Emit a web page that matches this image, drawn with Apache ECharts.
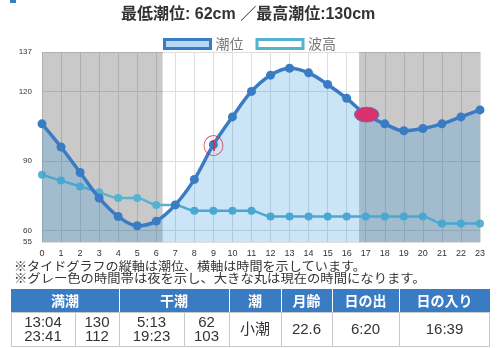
<!DOCTYPE html>
<html>
<head>
<meta charset="utf-8">
<script src="https://cdn.jsdelivr.net/npm/echarts@6/dist/echarts.min.js"></script>
<style>
  html, body { margin: 0; padding: 0; background: #fff; }
  #chart { width: 499px; height: 348px; }
</style>
</head>
<body>
<div id="chart"></div>
<script>
// Hourly values, 0:00 - 23:00
const hours = [0,1,2,3,4,5,6,7,8,9,10,11,12,13,14,15,16,17,18,19,20,21,22,23];
const tideLevel = [106,96,85,74,66,62,64,71,82,97,109,120,127,130,128,123,117,110,106,103,104,106,109,112];
const waveLevel = [84,81.5,79,76.5,74,74,71,71,68.5,68.5,68.5,68.5,66,66,66,66,66,66,66,66,66,63,63,63];
const yTicks = [55,60,90,120,137];

// Daily tide table
const highTimes = ['13:04','23:41'];
const highLevels = [130,112];
const lowTimes = ['5:13','19:23'];
const lowLevels = [62,103];
const tideName = '小潮';
const moonAge = '22.6';
const sunrise = '6:20';
const sunset = '16:39';
const nowTime = '17:03';
const nowLevel = 110;
const noteHour = 9;

const toHour = t => { const [h, m] = t.split(':').map(Number); return h + m / 60; };
const minLevel = Math.min(...lowLevels);
const maxLevel = Math.max(...highLevels);

const FONT_JP = '"Noto Sans CJK JP", "Noto Sans", sans-serif';
const FONT_MIX = '"Liberation Sans", "Noto Sans CJK JP", sans-serif';
const FONT_NUM = '"Liberation Sans", Arial, sans-serif';
const BLUE = '#3a7cc4';
const TEAL = '#55b2d0';

const chart = echarts.init(document.getElementById('chart'), null, { renderer: 'canvas' });

// Tide table drawn as graphic elements
const tX = 11, tR = 490, hTop = 289, hBot = 312, bBot = 347;
const cols = [11, 75, 119, 184, 229, 281, 332, 399, 490];
const headers = [
  ['満潮', 0, 2], ['干潮', 2, 4], ['潮', 4, 5], ['月齢', 5, 6], ['日の出', 6, 7], ['日の入り', 7, 8]
];
const bodyCells = [
  highTimes.join('\n'), highLevels.join('\n'), lowTimes.join('\n'), lowLevels.join('\n'),
  tideName, moonAge, sunrise, sunset
];
const tableEls = [];
tableEls.push({ type: 'rect', shape: { x: tX, y: hTop, width: tR - tX, height: hBot - hTop }, style: { fill: BLUE } });
tableEls.push({ type: 'rect', shape: { x: tX + 0.5, y: hBot + 0.5, width: tR - tX - 1, height: bBot - hBot - 1 }, style: { fill: '#fff', stroke: '#c8c8c8', lineWidth: 1 } });
headers.forEach(([txt, a, b], i) => {
  if (i > 0) tableEls.push({ type: 'line', shape: { x1: cols[a] + 0.5, y1: hTop, x2: cols[a] + 0.5, y2: hBot }, style: { stroke: '#ffffff', lineWidth: 1 } });
  tableEls.push({ type: 'text', x: (cols[a] + cols[b]) / 2, y: (hTop + hBot) / 2,
    style: { text: txt, fill: '#fff', font: 'bold 14px ' + FONT_JP, align: 'center', verticalAlign: 'middle' } });
});
bodyCells.forEach((txt, i) => {
  if (i > 0) tableEls.push({ type: 'line', shape: { x1: cols[i] + 0.5, y1: hBot, x2: cols[i] + 0.5, y2: bBot }, style: { stroke: '#c8c8c8', lineWidth: 1 } });
  tableEls.push({ type: 'text', x: (cols[i] + cols[i + 1]) / 2, y: (hBot + bBot) / 2 + 0.5,
    style: { text: txt, fill: '#333', font: '15px ' + FONT_MIX, align: 'center', verticalAlign: 'middle', lineHeight: 14 } });
});

const option = {
  animation: false,
  title: {
    text: '最低潮位: ' + minLevel + 'cm ／最高潮位:' + maxLevel + 'cm',
    left: 116, top: 2,
    textStyle: { fontFamily: FONT_MIX, fontSize: 16, fontWeight: 'bold', color: '#333' }
  },
  legend: {
    top: 32, left: 'center', itemWidth: 46, itemHeight: 9, itemGap: 12,
    textStyle: { fontFamily: FONT_JP, fontSize: 14, color: '#777' },
    data: [
      { name: '潮位', icon: 'rect', itemStyle: { color: '#b5d8f3', borderColor: BLUE, borderWidth: 3 } },
      { name: '波高', icon: 'rect', itemStyle: { color: '#ffffff', borderColor: TEAL, borderWidth: 3 } }
    ]
  },
  grid: { left: 42, right: 19, top: 52, bottom: 106 },
  xAxis: {
    type: 'value', min: 0, max: 23, interval: 1,
    axisLine: { show: false }, axisTick: { show: false },
    axisLabel: { fontFamily: FONT_NUM, fontSize: 9, color: '#333', margin: 7 },
    splitLine: { show: true, lineStyle: { color: '#dedede', width: 1 } }
  },
  yAxis: {
    type: 'value', min: 55, max: 137,
    axisLine: { show: false },
    axisTick: { show: false, customValues: yTicks },
    axisLabel: { customValues: yTicks, fontFamily: FONT_NUM, fontSize: 8, color: '#333', margin: 10 },
    splitLine: { show: true, lineStyle: { color: '#dedede', width: 1 } }
  },
  series: [
    {
      name: '波高', type: 'line', z: 2,
      data: hours.map((h, i) => [h, waveLevel[i]]),
      smooth: 0.3, symbol: 'circle', symbolSize: 8,
      lineStyle: { color: TEAL, width: 2.5 },
      itemStyle: { color: TEAL },
      markArea: {
        silent: true,
        itemStyle: { color: 'rgba(0,0,0,0.21)' },
        data: [
          [{ xAxis: 0 }, { xAxis: toHour(sunrise) }],
          [{ xAxis: toHour(sunset) }, { xAxis: 23 }]
        ]
      }
    },
    {
      name: '潮位', type: 'line', z: 3,
      data: hours.map((h, i) => [h, tideLevel[i]]),
      smooth: 0.35, symbol: 'circle', symbolSize: 9,
      lineStyle: { color: BLUE, width: 3.5 },
      itemStyle: { color: BLUE },
      areaStyle: { color: 'rgba(31,137,218,0.33)' },
      markPoint: {
        silent: true,
        data: [
          {
            coord: [noteHour, tideLevel[noteHour]], symbol: 'circle', symbolSize: 1,
            itemStyle: { color: 'rgba(0,0,0,0)' },
            label: { show: true, position: 'inside', formatter: '①', color: '#e3263f', fontSize: 21, fontFamily: FONT_JP }
          },
          {
            coord: [toHour(nowTime), nowLevel], symbol: 'circle', symbolSize: [24, 15],
            itemStyle: { color: '#d9316e', borderColor: '#6d6fb2', borderWidth: 1 },
            label: { show: false }
          }
        ]
      }
    }
  ],
  graphic: [
    { type: 'rect', shape: { x: 10, y: 0, width: 6, height: 3 }, style: { fill: BLUE } },
    { type: 'text', x: 14, y: 266, scaleX: 1.09, style: { text: '※タイドグラフの縦軸は潮位、横軸は時間を示しています。', fill: '#333', font: '12px ' + FONT_JP, verticalAlign: 'middle' } },
    { type: 'text', x: 14, y: 278, scaleX: 1.11, style: { text: '※グレー色の時間帯は夜を示し、大きな丸は現在の時間になります。', fill: '#333', font: '12px ' + FONT_JP, verticalAlign: 'middle' } },
    ...tableEls
  ]
};

chart.setOption(option);
</script>
</body>
</html>
